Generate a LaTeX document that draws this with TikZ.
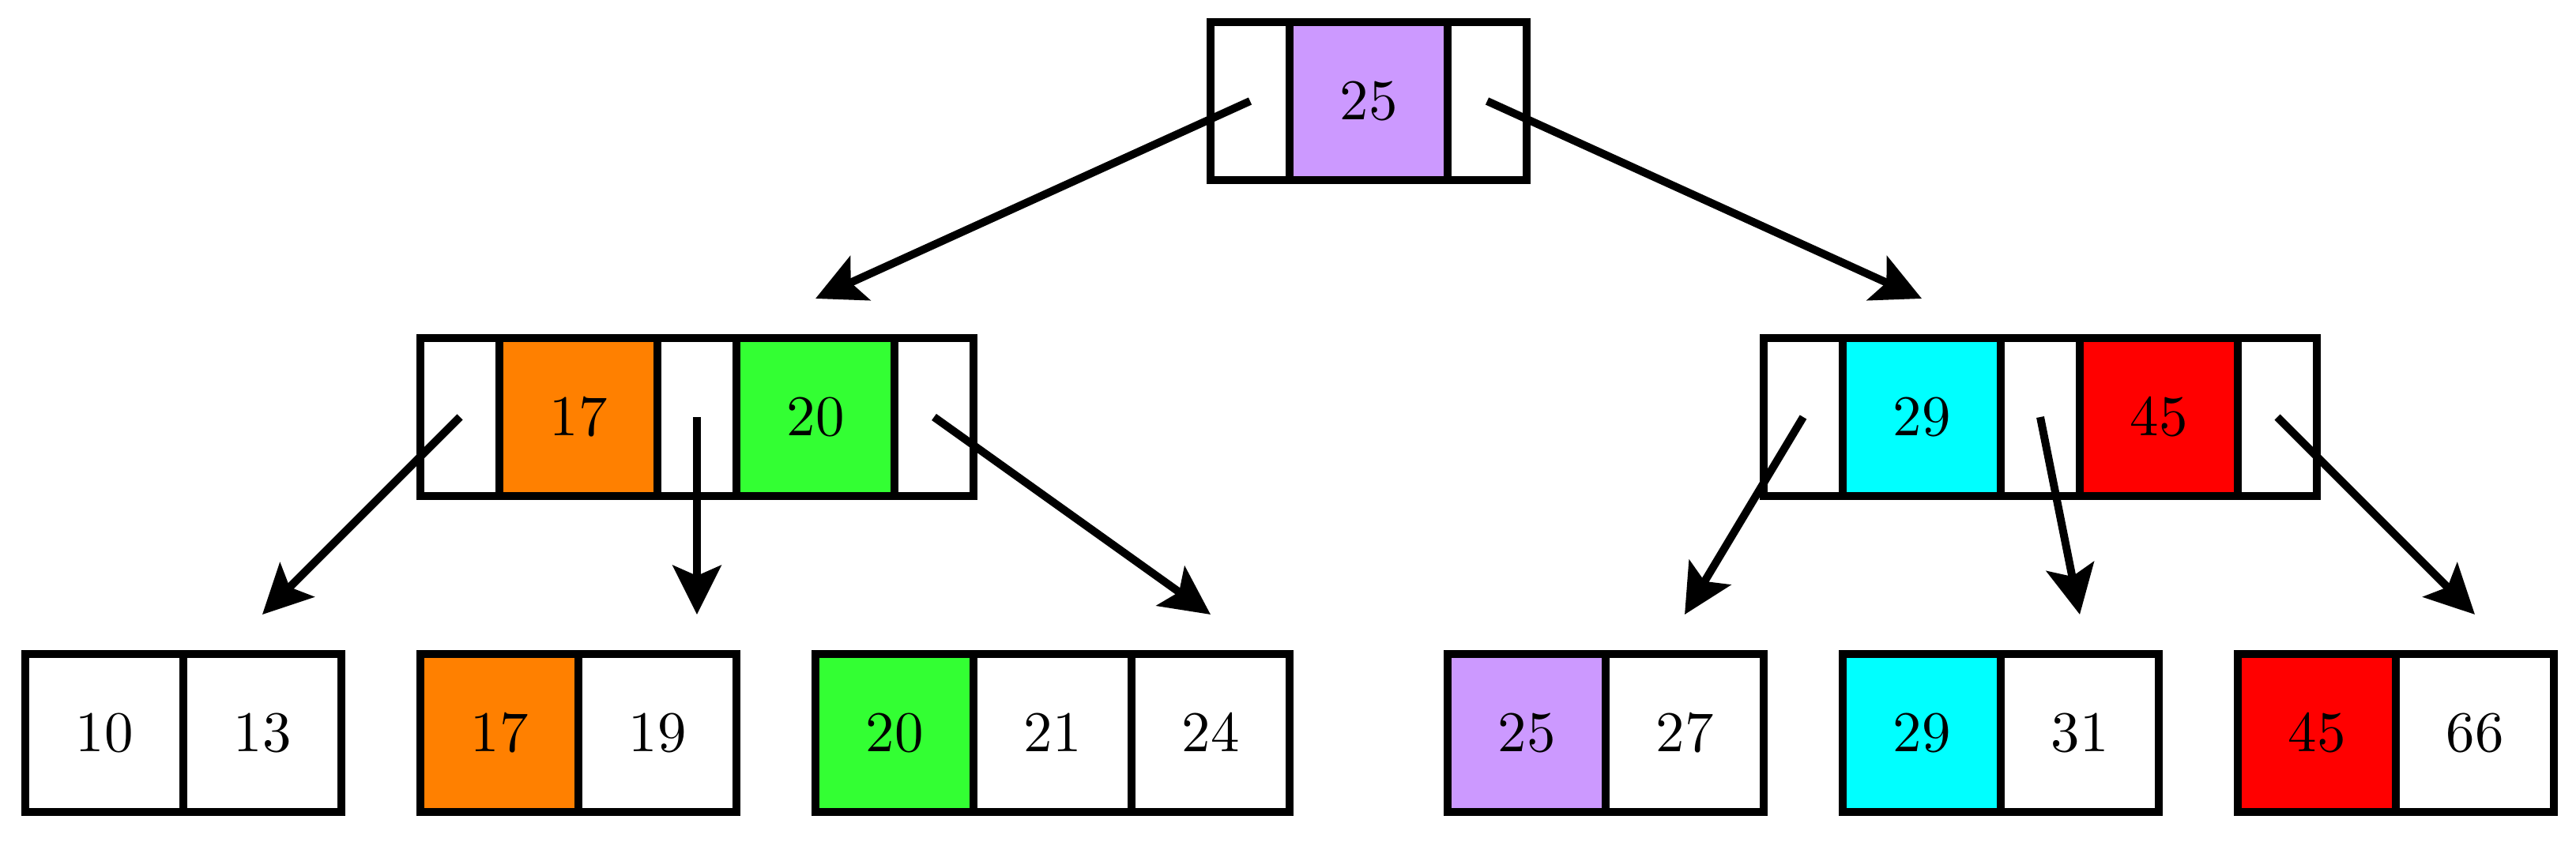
\documentclass[tikz,border=0pt]{standalone}
\usetikzlibrary{arrows.meta}
\definecolor{kpurple}{RGB}{204,153,255}
\definecolor{korange}{RGB}{255,128,0}
\definecolor{kgreen}{RGB}{51,255,51}
\definecolor{kcyan}{RGB}{0,255,255}
\definecolor{kred}{RGB}{255,0,0}
\font\keyfont=cmr10 at 20.74pt
\begin{document}
\begin{tikzpicture}[x=1cm,y=1cm,
  cell/.style={draw=black, fill=white, line width=0.1cm, inner sep=0pt, outer sep=0pt,
    anchor=south west, font=\keyfont},
  keycell/.style={cell, minimum width=2cm, minimum height=2cm},
  ptrcell/.style={cell, minimum width=1cm, minimum height=2cm},
  link/.style={line width=0.1cm, -{Stealth[length=0.62cm,width=0.61cm,inset=0.13cm]}}]
\useasboundingbox (-0.32,-0.37) rectangle (32.28,10.28);
% root
\node[ptrcell] (r0) at (15,8) {};
\node[keycell, fill=kpurple] (r1) at (16,8) {25};
\node[ptrcell] (r2) at (18,8) {};
% middle left
\node[ptrcell] (m0) at (5,4) {};
\node[keycell, fill=korange] (m1) at (6,4) {17};
\node[ptrcell] (m2) at (8,4) {};
\node[keycell, fill=kgreen] (m3) at (9,4) {20};
\node[ptrcell] (m4) at (11,4) {};
% middle right
\node[ptrcell] (n0) at (22,4) {};
\node[keycell, fill=kcyan] (n1) at (23,4) {29};
\node[ptrcell] (n2) at (25,4) {};
\node[keycell, fill=kred] (n3) at (26,4) {45};
\node[ptrcell] (n4) at (28,4) {};
% leaves
\node[keycell] (a1) at (0,0) {10};
\node[keycell] (a2) at (2,0) {13};
\node[keycell, fill=korange] (b1) at (5,0) {17};
\node[keycell] (b2) at (7,0) {19};
\node[keycell, fill=kgreen] (c1) at (10,0) {20};
\node[keycell] (c2) at (12,0) {21};
\node[keycell] (c3) at (14,0) {24};
\node[keycell, fill=kpurple] (d1) at (18,0) {25};
\node[keycell] (d2) at (20,0) {27};
\node[keycell, fill=kcyan] (e1) at (23,0) {29};
\node[keycell] (e2) at (25,0) {31};
\node[keycell, fill=kred] (f1) at (28,0) {45};
\node[keycell] (f2) at (30,0) {66};
% arrow tips
\coordinate (tL) at (10,6.5);
\coordinate (tR) at (24,6.5);
\coordinate (t1) at (3,2.5);
\coordinate (t2) at (8.5,2.5);
\coordinate (t3) at (15,2.5);
\coordinate (t4) at (21,2.5);
\coordinate (t5) at (26,2.5);
\coordinate (t6) at (31,2.5);
% connectors
\draw[link] (r0.center) -- (tL);
\draw[link] (r2.center) -- (tR);
\draw[link] (m0.center) -- (t1);
\draw[link] (m2.center) -- (t2);
\draw[link] (m4.center) -- (t3);
\draw[link] (n0.center) -- (t4);
\draw[link] (n2.center) -- (t5);
\draw[link] (n4.center) -- (t6);
\end{tikzpicture}
\end{document}
